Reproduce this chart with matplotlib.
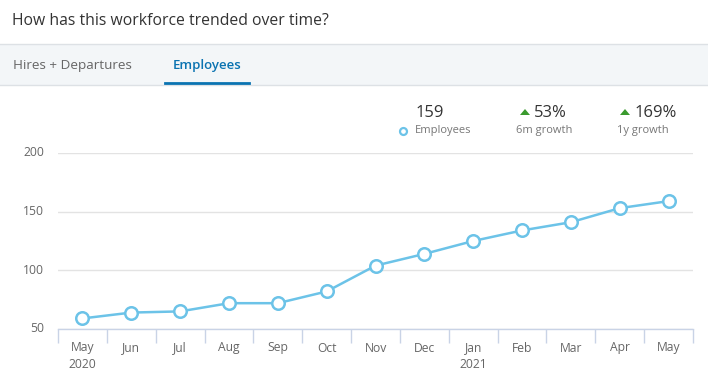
import matplotlib
matplotlib.use("Agg")
import matplotlib.pyplot as plt
from matplotlib.lines import Line2D
from matplotlib.patches import Polygon

months = ["May\n2020", "Jun", "Jul", "Aug", "Sep", "Oct", "Nov", "Dec", "Jan\n2021", "Feb", "Mar", "Apr", "May"]
employees = [59, 64, 65, 72, 72, 82, 104, 114, 125, 134, 141, 153, 159]
yticks = [50, 100, 150, 200]
headline = "159"
growth_6m = "53%"
growth_1y = "169%"

plt.rcParams['font.family'] = ['Open Sans', 'DejaVu Sans']

W, H = 708, 385
fig = plt.figure(figsize=(W / 100, H / 100), dpi=100)

def fx(x):
    return x / W
def fy(y):
    return 1 - y / H

# header band
band = plt.Rectangle((0, fy(85)), 1, (85 - 44) / H, transform=fig.transFigure,
                     facecolor="#f3f6f8", edgecolor="none", zorder=0)
fig.add_artist(band)
fig.add_artist(Line2D([0, 1], [fy(44), fy(44)], transform=fig.transFigure, color="#dde1e5", lw=1))
fig.add_artist(Line2D([0, 1], [fy(85), fy(85)], transform=fig.transFigure, color="#dde1e5", lw=1))
fig.add_artist(Line2D([fx(165), fx(249)], [fy(83), fy(83)], transform=fig.transFigure, color="#0a73b1", lw=2))

fig.text(fx(12), fy(21), "How has this workforce trended over time?", fontsize=11.3, color="#333333", va="center", ha="left")
fig.text(fx(13), fy(65), "Hires + Departures", fontsize=9.7, color="#666666", va="center", ha="left")
fig.text(fx(173), fy(65), "Employees", fontsize=9.5, color="#0a73b1", va="center", ha="left", fontweight="semibold")

def tri(cx, cy):
    pts = [(fx(cx - 5), fy(cy + 3)), (fx(cx + 5), fy(cy + 3)), (fx(cx), fy(cy - 3))]
    fig.add_artist(Polygon(pts, closed=True, transform=fig.transFigure, facecolor="#3a9a2e", edgecolor="none"))

# stats
fig.text(fx(430), fy(113), headline, fontsize=12, color="#333333", ha="center", va="center")
fig.text(fx(415), fy(131), "Employees", fontsize=8, color="#777777", ha="left", va="center")
fig.add_artist(Line2D([fx(403)], [fy(131)], transform=fig.transFigure, marker="o", markersize=5,
                      markerfacecolor="white", markeredgecolor="#6cc3e8", markeredgewidth=1.6))
tri(525, 112)
fig.text(fx(534), fy(113), growth_6m, fontsize=12, color="#333333", ha="left", va="center")
fig.text(fx(544), fy(131), "6m growth", fontsize=8, color="#777777", ha="center", va="center")
tri(625, 112)
fig.text(fx(635), fy(113), growth_1y, fontsize=12, color="#333333", ha="left", va="center")
fig.text(fx(643), fy(131), "1y growth", fontsize=8, color="#777777", ha="center", va="center")

# chart
ax = fig.add_axes([fx(58), fy(329), (693 - 58) / W, (329 - 153) / H])
x = list(range(len(months)))
ax.plot(x, employees, color="#6cc3e8", lw=1.8, marker="o", markersize=9,
        markerfacecolor="white", markeredgecolor="#6cc3e8", markeredgewidth=1.8, clip_on=False, zorder=3)
ax.set_xlim(-0.5, len(months) - 0.5)
ax.set_ylim(50, 200)
ax.set_yticks(yticks)
ax.set_yticklabels([str(v) for v in yticks])
ax.yaxis.grid(True, color="#e3e3e3", lw=1)
ax.set_axisbelow(True)
for s in ["top", "right", "left"]:
    ax.spines[s].set_visible(False)
ax.spines["bottom"].set_color("#c9d3e6")
ax.spines["bottom"].set_linewidth(1)
ax.set_xticks(x)
ax.set_xticklabels(months, fontsize=8.7, color="#666666", linespacing=1.3)
ax.set_xticks([i - 0.5 for i in range(len(months) + 1)], minor=True)
ax.tick_params(axis="x", which="major", length=0, pad=9)
ax.tick_params(axis="x", which="minor", length=10, color="#c9d3e6", width=1)
ax.tick_params(axis="y", length=0, labelsize=8.7, labelcolor="#666666", pad=10)
for lbl in ax.get_yticklabels():
    lbl.set_verticalalignment("center")

fig.savefig("out.png", dpi=100)
